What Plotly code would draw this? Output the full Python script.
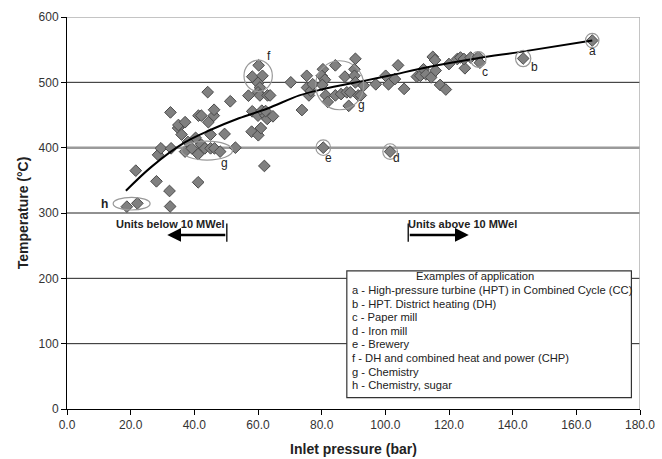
import plotly.graph_objects as go

# ---- data ----
pressure = [18.8, 22.1, 32.4, 32.2, 28.1, 21.6, 41.2, 62.0,
            28.6, 29.5, 32.7, 37.1, 38.0, 39.2, 40.4, 41.2, 42.2, 43.3, 45.1, 46.3, 48.1, 49.5, 52.9,
            32.5, 34.9, 35.0, 36.0, 37.1, 41.3, 42.2, 44.2, 44.4, 45.1, 46.1, 46.2, 51.3,
            60.2, 58.2, 61.4, 60.0, 60.6, 57.0, 60.0, 60.6, 63.0, 63.8,
            58.2, 60.0, 61.2, 62.4, 62.9, 64.7, 62.4, 58.0, 60.1, 60.9,
            70.3, 73.8, 75.3, 75.4, 76.0, 76.6, 77.2,
            80.4, 80.0, 81.0, 80.2, 81.3, 81.9, 84.3, 84.3, 86.1, 87.3, 87.9, 88.5, 89.0, 90.6, 90.3, 90.3, 90.6, 91.5, 92.3, 93.2,
            80.5, 101.5,
            97.0, 100.1, 101.0, 104.0, 103.0, 105.9, 109.9, 111.0, 112.0, 112.8, 114.9, 114.4, 115.6, 115.8, 117.2, 119.0,
            120.0, 122.6, 123.6, 125.0, 124.7, 126.8, 129.2, 129.7,
            143.3, 165.0]
temperature = [309.7, 314.8, 310.0, 333.7, 348.5, 364.8, 347.0, 372.0,
               389.0, 399.0, 399.0, 394.0, 408.7, 399.0, 415.0, 390.0, 404.6, 399.0, 399.0, 399.0, 394.0, 421.0, 400.0,
               454.0, 430.0, 434.7, 420.0, 439.0, 449.0, 449.0, 485.0, 439.0, 420.0, 449.0, 458.0, 471.0,
               526.0, 508.7, 510.0, 499.0, 492.0, 479.6, 484.7, 480.0, 480.0, 480.0,
               455.6, 449.0, 456.6, 449.0, 444.0, 448.0, 456.0, 424.5, 419.0, 430.0,
               500.0, 457.6, 510.0, 492.0, 480.0, 487.0, 497.0,
               520.0, 510.0, 504.0, 496.0, 480.0, 470.0, 526.0, 480.0, 482.0, 508.7, 484.7, 464.0, 484.7, 536.0, 520.0, 510.0, 500.0, 480.0, 480.0, 495.0,
               400.0, 394.0,
               497.0, 510.0, 497.0, 526.0, 505.0, 490.0, 508.7, 510.0, 520.0, 512.0, 539.0, 507.6, 534.0, 518.0, 496.0, 489.0,
               528.0, 535.7, 538.0, 521.5, 535.7, 538.0, 539.0, 530.0,
               536.5, 564.0]

trend_x = [18.5, 26.6, 37.0, 45.0, 54.0, 63.0, 73.0, 80.0, 94.0, 101.0, 114.0, 129.0, 143.0, 165.0]
trend_y = [334, 371, 408, 427, 445, 460, 480, 489, 503, 510, 524, 537, 547, 564]

x_ticks = [0, 20, 40, 60, 80, 100, 120, 140, 160, 180]
y_ticks = [0, 100, 200, 300, 400, 500, 600]
dark_grid = [100, 200, 300, 500]
light_grid = [400]

legend_title = "Examples of application"
legend_lines = [
    "a - High-pressure turbine (HPT) in Combined Cycle (CC)",
    "b - HPT. District heating (DH)",
    "c - Paper mill",
    "d - Iron mill",
    "e - Brewery",
    "f - DH and combined heat and power (CHP)",
    "g - Chemistry",
    "h - Chemistry, sugar",
]

# marked groups: (x0, x1, y0, y1)
group_circles = [
    (162.9, 167.1, 553, 575),   # a
    (140.9, 145.7, 524, 549),   # b
    (126.8, 131.6, 523, 547),   # c
    (99.2, 103.8, 382, 406),    # d
    (78.2, 82.8, 388, 412),     # e
    (55.6, 64.5, 486, 534),     # f
    (78.1, 93.2, 458, 533),     # g (upper)
    (36.0, 52.0, 381, 410),     # g (lower)
    (14.5, 26.1, 304.6, 324),   # h
]
group_labels = [
    ("a", 165.0, 548), ("b", 146.8, 523), ("c", 131.3, 516), ("d", 103.4, 384),
    ("e", 82.3, 384), ("f", 63.6, 541), ("g", 92.6, 466), ("g", 49.5, 376), ("h", 11.9, 314),
]

FONT = "Liberation Sans, Arial, sans-serif"

fig = go.Figure()
fig.add_trace(go.Scatter(
    x=pressure, y=temperature, mode="markers",
    marker=dict(symbol="diamond", size=9, color="#808080", line=dict(color="#4a4a4a", width=1)),
    showlegend=False, hoverinfo="x+y"))
fig.add_trace(go.Scatter(
    x=trend_x, y=trend_y, mode="lines", line=dict(color="black", width=2, shape="spline"),
    showlegend=False, hoverinfo="skip"))

shapes = []
for g in dark_grid:
    shapes.append(dict(type="line", xref="x", yref="y", x0=0, x1=180, y0=g, y1=g,
                       line=dict(color="#222222", width=1), layer="below"))
for g in light_grid:
    shapes.append(dict(type="line", xref="x", yref="y", x0=0, x1=180, y0=g, y1=g,
                       line=dict(color="#9a9a9a", width=2.5), layer="below"))
shapes.append(dict(type="line", xref="x", yref="y", x0=0, x1=180, y0=600, y1=600,
                   line=dict(color="#b0b0b0", width=1.5), layer="below"))
shapes.append(dict(type="line", xref="x", yref="y", x0=180, x1=180, y0=0, y1=600,
                   line=dict(color="#b0b0b0", width=1.5), layer="below"))
for (x0, x1, y0, y1) in group_circles:
    shapes.append(dict(type="circle", xref="x", yref="y", x0=x0, x1=x1, y0=y0, y1=y1,
                       line=dict(color="#999999", width=1.2)))
# arrow bars
shapes.append(dict(type="line", xref="x", yref="y", x0=50.2, x1=50.2, y0=256, y1=284,
                   line=dict(color="#222", width=1.5)))
shapes.append(dict(type="line", xref="x", yref="y", x0=107.2, x1=107.2, y0=256, y1=284,
                   line=dict(color="#222", width=1.5)))
# legend box
shapes.append(dict(type="rect", xref="x", yref="y", x0=87.9, x1=177.3, y0=17.5, y1=211.5,
                   line=dict(color="#333", width=1.2), fillcolor="white"))

annotations = []
for (t, x, y) in group_labels:
    annotations.append(dict(x=x, y=y, xref="x", yref="y", text=("<b>%s</b>" % t) if t == "h" else t,
                            showarrow=False, font=dict(family=FONT, size=12, color="#222")))
annotations.append(dict(x=32.6, y=283, xref="x", yref="y", text="<b>Units below 10 MWel</b>",
                        showarrow=False, font=dict(family=FONT, size=11, color="#222")))
annotations.append(dict(x=124.2, y=283, xref="x", yref="y", text="<b>Units above 10 MWel</b>",
                        showarrow=False, font=dict(family=FONT, size=11, color="#222")))
annotations.append(dict(x=31.5, y=266.5, ax=50.2, ay=266.5, xref="x", yref="y", axref="x", ayref="y",
                        text="", showarrow=True, arrowhead=2, arrowsize=1.1, arrowwidth=2.5, arrowcolor="black"))
annotations.append(dict(x=126.2, y=266.5, ax=107.2, ay=266.5, xref="x", yref="y", axref="x", ayref="y",
                        text="", showarrow=True, arrowhead=2, arrowsize=1.1, arrowwidth=2.5, arrowcolor="black"))
annotations.append(dict(x=128.2, y=203.5, xref="x", yref="y", text=legend_title, showarrow=False,
                        font=dict(family=FONT, size=11.2, color="#222")))
for i, line in enumerate(legend_lines):
    annotations.append(dict(x=88.9, y=182.1 - i * 20.8, xref="x", yref="y", text=line, showarrow=False,
                            xanchor="left", font=dict(family=FONT, size=11.2, color="#222")))

fig.update_layout(
    width=662, height=459, margin=dict(l=67, r=22, t=17, b=50),
    paper_bgcolor="white", plot_bgcolor="white",
    font=dict(family=FONT, size=12, color="#333"),
    shapes=shapes, annotations=annotations,
    xaxis=dict(range=[0, 180], tickvals=x_ticks, ticktext=["%.1f" % v for v in x_ticks],
               showgrid=False, zeroline=False, showline=True, linecolor="black", linewidth=1,
               ticks="outside", ticklen=5, tickcolor="black", automargin=False,
               tickfont=dict(family=FONT, size=12, color="#333"),
               title=dict(text="<b>Inlet pressure (bar)</b>", font=dict(family=FONT, size=14, color="#222"),
                          standoff=12)),
    yaxis=dict(range=[0, 600], tickvals=y_ticks, showgrid=False,
               zeroline=False, showline=True, linecolor="black", linewidth=1,
               ticks="outside", ticklen=5, tickcolor="black", automargin=False,
               tickfont=dict(family=FONT, size=12, color="#333"),
               title=dict(text="<b>Temperature (°C)</b>", font=dict(family=FONT, size=14, color="#222"),
                          standoff=6)),
)

fig.write_html("out.html")
